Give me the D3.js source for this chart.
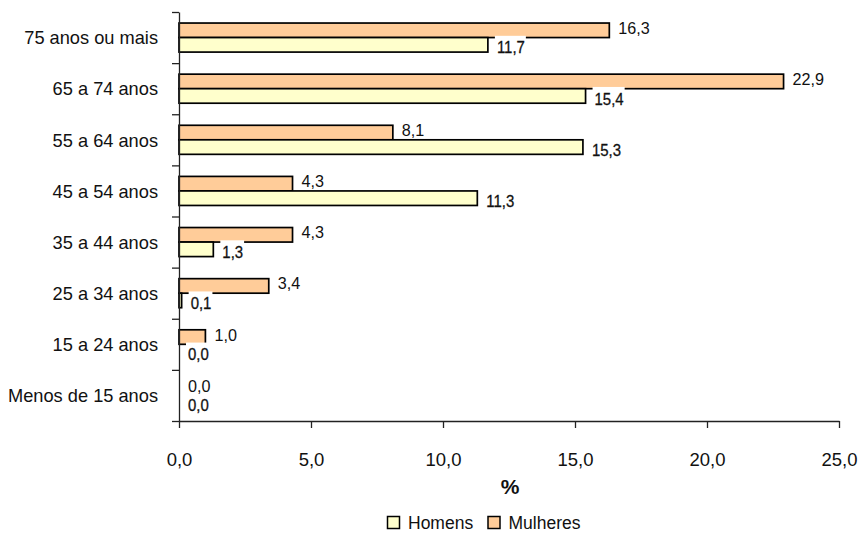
<!DOCTYPE html>
<html>
<head>
<meta charset="utf-8">
<script src="https://cdn.jsdelivr.net/npm/d3@7"></script>
<style>
  html, body { margin: 0; padding: 0; background: #fff; }
  svg { display: block; font-family: "Liberation Sans", Arial, sans-serif; }
  svg text { font-family: "Liberation Sans", Arial, sans-serif; }
</style>
</head>
<body>
<svg id="chart" width="861" height="533"></svg>
<script>
// Age groups, top to bottom
const categories = [
  "75 anos ou mais", "65 a 74 anos", "55 a 64 anos", "45 a 54 anos",
  "35 a 44 anos", "25 a 34 anos", "15 a 24 anos", "Menos de 15 anos"
];
const homens   = [11.7, 15.4, 15.3, 11.3, 1.3, 0.1, 0.0, 0.0];
const mulheres = [16.3, 22.9, 8.1, 4.3, 4.3, 3.4, 1.0, 0.0];
const xTicks = [0, 5, 10, 15, 20, 25];
const seriesNames = ["Mulheres", "Homens"];   // drawn top to bottom inside each group
const legendNames = ["Homens", "Mulheres"];
const colors = { Homens: "#FFFFCC", Mulheres: "#FFCC99" };

const fmt = v => v.toFixed(1).replace(".", ",");

const svg = d3.select("#chart");

const x = d3.scaleLinear().domain([0, 25]).range([179, 839]);
const y = d3.scaleBand().domain(categories).range([12, 421]).padding(0);
const ySub = d3.scaleBand().domain(seriesNames).range([0, y.bandwidth()])
  .paddingInner(0).paddingOuter(0.76);

const rows = categories.map((c, i) => ({
  cat: c,
  Homens: homens[i],
  Mulheres: mulheres[i]
}));

// narrow text: placed with a translate and squeezed horizontally
function narrowText(parent, tx, ty, str, size, sx, anchor) {
  return parent.append("text")
    .attr("transform", `translate(${tx},${ty}) scale(${sx},1)`)
    .attr("text-anchor", anchor || "start")
    .attr("font-size", size)
    .attr("fill", "#111")
    .text(str);
}

// bars
const groups = svg.append("g").selectAll("g")
  .data(rows).join("g")
  .attr("transform", d => `translate(0,${y(d.cat)})`);

groups.selectAll("rect")
  .data(d => seriesNames.map(s => ({ s, v: d[s] })))
  .join("rect")
  .filter(d => d.v > 0)
  .attr("x", x(0))
  .attr("y", d => ySub(d.s))
  .attr("width", d => x(d.v) - x(0))
  .attr("height", ySub.bandwidth())
  .attr("fill", d => colors[d.s])
  .attr("stroke", "#000")
  .attr("stroke-width", 1.7);

// left axis: ticks at the group boundaries
const yEdge = d3.scaleLinear().domain([0, categories.length]).range([12, 421]);
const leftAxis = svg.append("g")
  .attr("transform", `translate(${x(0)},0)`)
  .call(d3.axisLeft(yEdge).tickValues(d3.range(categories.length + 1))
    .tickFormat("").tickSize(7).tickSizeOuter(0));
leftAxis.selectAll("path,line").attr("stroke", "#222").attr("stroke-width", 1.3);

// category labels
const catG = svg.append("g");
categories.forEach(c => {
  narrowText(catG, 158, y(c) + y.bandwidth() / 2 + 6.8, c, 19, 0.96, "end");
});

// bottom axis
const bottomAxis = svg.append("g")
  .attr("transform", `translate(0,421)`)
  .call(d3.axisBottom(x).tickValues(xTicks).tickFormat(fmt)
    .tickSize(7).tickSizeOuter(0).tickPadding(25));
bottomAxis.attr("font-family", null);
bottomAxis.selectAll("path,line").attr("stroke", "#222").attr("stroke-width", 1.3);
bottomAxis.selectAll("text")
  .attr("font-size", 18.5)
  .attr("fill", "#111");

// axis title
svg.append("text")
  .attr("x", x(12.5) + 1)
  .attr("y", 494)
  .attr("text-anchor", "middle")
  .attr("font-size", 21)
  .attr("font-weight", "bold")
  .attr("fill", "#111")
  .text("%");

// value labels: Homens (boxed) first, then Mulheres
const hLabels = svg.append("g");
rows.forEach(d => {
  const cy = y(d.cat) + ySub("Homens") + ySub.bandwidth() / 2 + 2.5;
  const tx = x(d.Homens) + 9;
  const g = hLabels.append("g");
  const size = 17, sx = 0.88;
  const t = narrowText(g, tx, cy + size * 0.36, fmt(d.Homens), size, sx)
    .attr("stroke", "#111")
    .attr("stroke-width", 0.3);
  const w = t.node().getComputedTextLength() * sx;
  g.insert("rect", "text")
    .attr("x", tx - 2)
    .attr("y", cy - 11.5)
    .attr("width", w + 3)
    .attr("height", 20)
    .attr("fill", "#fff");
});

const mLabels = svg.append("g");
rows.forEach(d => {
  const size = 16.5;
  const cy = y(d.cat) + ySub("Mulheres") + ySub.bandwidth() / 2 - 2.4;
  narrowText(mLabels, x(d.Mulheres) + 9, cy + size * 0.36, fmt(d.Mulheres), size, 0.98);
});

// legend
const legendPos = [{ bx: 387.5, tx: 408 }, { bx: 488, tx: 508.5 }];
const legend = svg.append("g");
legendNames.forEach((name, i) => {
  legend.append("rect")
    .attr("x", legendPos[i].bx)
    .attr("y", 516.5)
    .attr("width", 12)
    .attr("height", 12)
    .attr("fill", colors[name])
    .attr("stroke", "#000")
    .attr("stroke-width", 1.5);
  legend.append("text")
    .attr("x", legendPos[i].tx)
    .attr("y", 529)
    .attr("font-size", 17.5)
    .attr("fill", "#111")
    .text(name);
});
</script>
</body>
</html>
